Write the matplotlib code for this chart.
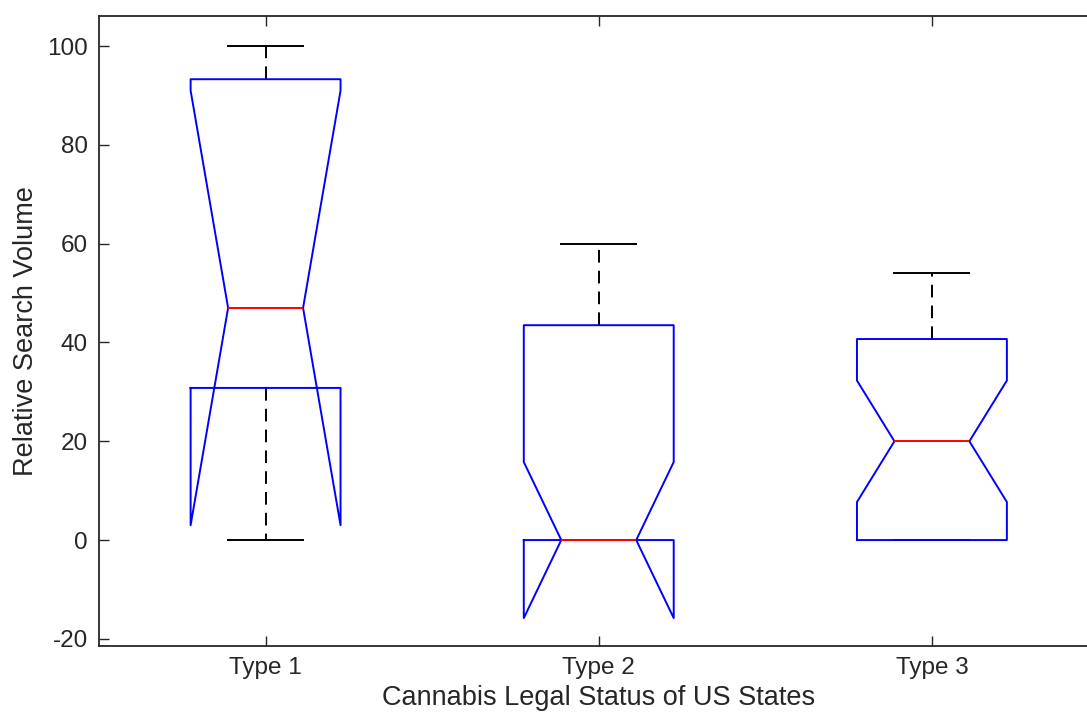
import matplotlib
matplotlib.use("Agg")
import matplotlib.pyplot as plt

categories = ["Type 1", "Type 2", "Type 3"]
q1 = [30.8, 0.0, 0.0]
q3 = [93.3, 43.5, 40.7]
medians = [47.0, 0.0, 20.0]
whislo = [0.0, 0.0, 0.0]
whishi = [100.0, 60.0, 54.0]
ci_lo = [3.0, -15.8, 7.7]
ci_hi = [91.0, 15.8, 32.3]
yticks = [-20, 0, 20, 40, 60, 80, 100]

plt.rcParams['font.family'] = ['Liberation Sans', 'DejaVu Sans']
plt.rcParams['axes.unicode_minus'] = False
ink = '#262626'

fig = plt.figure(figsize=(10.87, 7.18), dpi=100)
ax = fig.add_axes([99/1087, 72/718, 999.5/1087, 630/718])

stats = []
for i, c in enumerate(categories):
    stats.append(dict(label=c, med=medians[i], q1=q1[i], q3=q3[i],
                      whislo=whislo[i], whishi=whishi[i],
                      cilo=ci_lo[i], cihi=ci_hi[i], fliers=[]))

ax.bxp(stats, positions=[1, 2, 3], widths=0.45, shownotches=True,
       showfliers=False, capwidths=0.225,
       boxprops=dict(color='blue', linewidth=1.4, zorder=4),
       medianprops=dict(color='red', linewidth=1.4, zorder=5),
       whiskerprops=dict(color='black', linewidth=1.4, linestyle=(0, (6.5, 4.2)), zorder=2),
       capprops=dict(color='black', linewidth=1.4, zorder=2))

ax.set_xlim(0.5, 3.5)
ax.set_ylim(-21.45, 106.1)
ax.set_yticks(yticks)
ax.set_xticks([1, 2, 3])
ax.set_xticklabels(categories)
ax.tick_params(direction='in', top=True, right=True, length=7.5, width=1.0,
               color=ink, labelcolor=ink, labelsize=17.5, pad=8)
for s in ax.spines.values():
    s.set_color(ink)
    s.set_linewidth(1.3)
ax.set_xlabel("Cannabis Legal Status of US States", fontsize=19.5, color=ink, labelpad=4)
ax.set_ylabel("Relative Search Volume", fontsize=19.5, color=ink, labelpad=6)

fig.savefig("out.png", dpi=100)
